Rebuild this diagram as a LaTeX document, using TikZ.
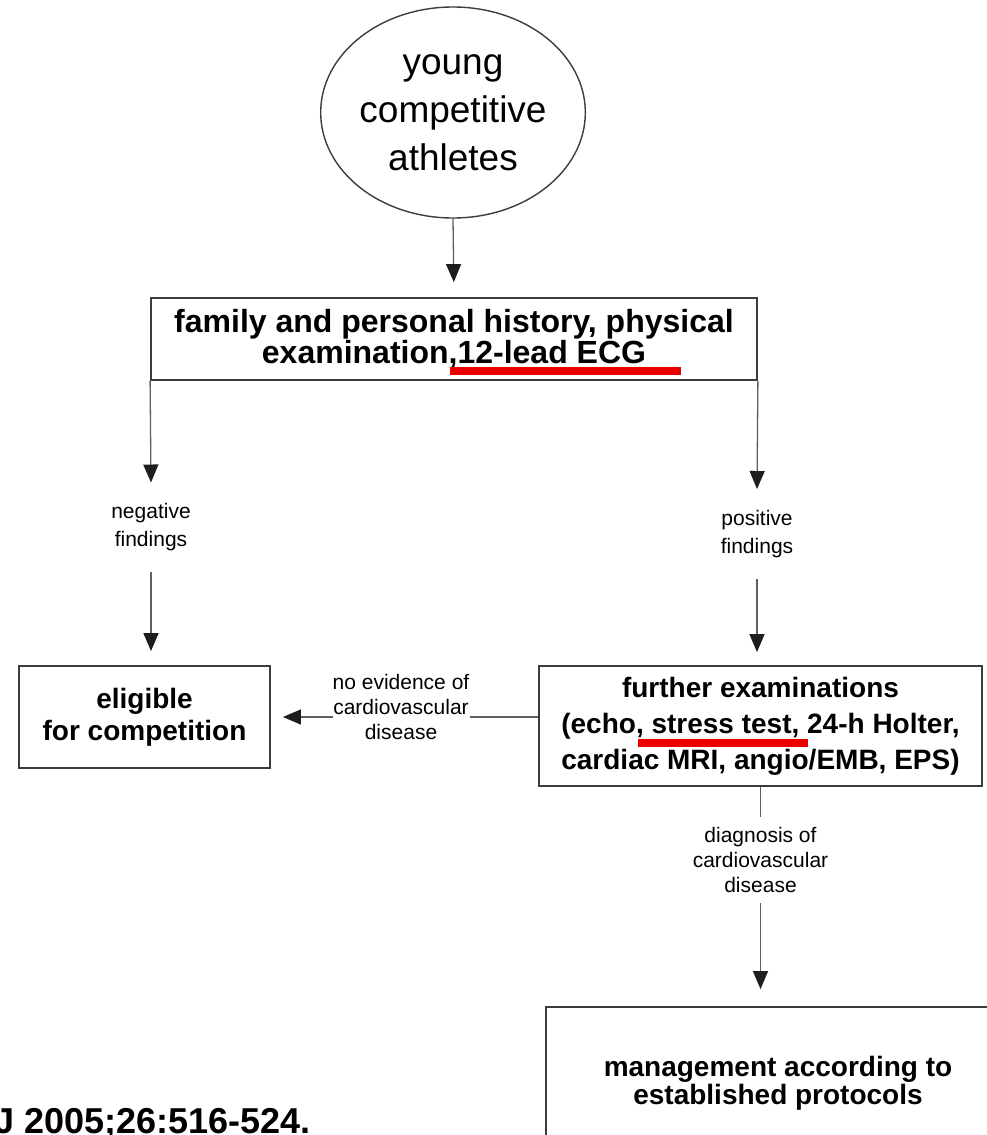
\documentclass[tikz,border=0pt]{standalone}
\usepackage{fontspec}
\setmainfont{Liberation Sans}
\usetikzlibrary{arrows.meta,shapes.geometric}

\begin{document}
\begin{tikzpicture}[x=1pt,y=-1pt,
    box/.style={draw=boxcolor, line width=1.8pt, align=center, inner sep=0pt,
        font=\fontsize{28}{32}\selectfont\bfseries},
    lbl/.style={align=center, inner xsep=0pt, font=\fontsize{21}{25}\selectfont},
    link/.style={draw=linecolor, line width=1.3pt},
    arr/.style={link, -{Triangle[width=15pt,length=18pt,color=tipcolor]}}]
    % Define colors
    \definecolor{boxcolor}{RGB}{60, 60, 60}
    \definecolor{linecolor}{RGB}{95, 95, 95}
    \definecolor{tipcolor}{RGB}{30, 30, 30}
    \definecolor{markcolor}{RGB}{235, 0, 0}

    % Page frame
    \useasboundingbox (0,0) rectangle (987,1135);
    \clip (0,0) rectangle (987,1135);

    % Start: the circle
    \node[draw=boxcolor, line width=1.4pt, ellipse, minimum width=240, minimum height=211,
        inner sep=0pt, align=center, font=\fontsize{37}{48}\selectfont]
        (athletes) at (453, 112.5) {young\\competitive\\athletes};

    % Screening box
    \node[box, minimum width=606, minimum height=82, font=\fontsize{32}{31}\selectfont\bfseries]
        (history) at (454, 339) {family and personal history, physical\\examination,12-lead ECG};

    % Outcome boxes
    \node[box, minimum width=251, minimum height=102] (eligible) at (144.5, 717)
        {eligible\\for competition};
    \node[box, minimum width=443, minimum height=120, font=\fontsize{28}{36}\selectfont\bfseries]
        (further) at (760.5, 726)
        {further examinations\\(echo, stress test, 24-h Holter,\\cardiac MRI, angio/EMB, EPS)};
    \node[box, minimum width=464, minimum height=153, font=\fontsize{28}{28}\selectfont\bfseries]
        (mgmt) at (778, 1083.5) {management according to\\established protocols};

    % Branch labels
    \node[lbl, font=\fontsize{21}{28}\selectfont, inner ysep=21pt] (neg) at (151, 527.5) {negative\\findings};
    \node[lbl, font=\fontsize{21}{28}\selectfont, inner ysep=21pt] (pos) at (757, 534) {positive\\findings};
    \node[lbl] (noev) at (401, 707) {no evidence of\\cardiovascular\\disease};
    \node[lbl, inner ysep=10pt] (diag) at (760.5, 860) {diagnosis of\\cardiovascular\\disease};

    % Connectors
    \draw[arr, shorten >=15pt] (athletes.south) -- (history.north);
    \draw[arr] (history.south west) -- (neg.north);
    \draw[arr] (history.south east) -- (pos.north);
    \draw[arr, shorten >=14pt] (neg.south) -- (neg.south |- eligible.north);
    \draw[arr, shorten >=13pt] (pos.south) -- (pos.south |- further.north);
    \draw[link] (further.west |- eligible.east) -- (noev.east |- eligible.east);
    \draw[arr, shorten >=12pt] (noev.west |- eligible.east) -- (eligible.east);
    \draw[link] (further.south) -- (diag.north);
    \draw[arr, shorten >=17pt] (diag.south) -- (diag.south |- mgmt.north);

    % Red underlines
    \fill[markcolor] (450, 367) rectangle (681, 375);
    \fill[markcolor] (638, 739) rectangle (808, 747);

    % Citation fragment
    \node[anchor=base west, inner sep=0pt, font=\fontsize{36}{36}\selectfont\bfseries]
        (cite) at (-6, 1133) {J 2005;26:516-524.};
\end{tikzpicture}
\end{document}
